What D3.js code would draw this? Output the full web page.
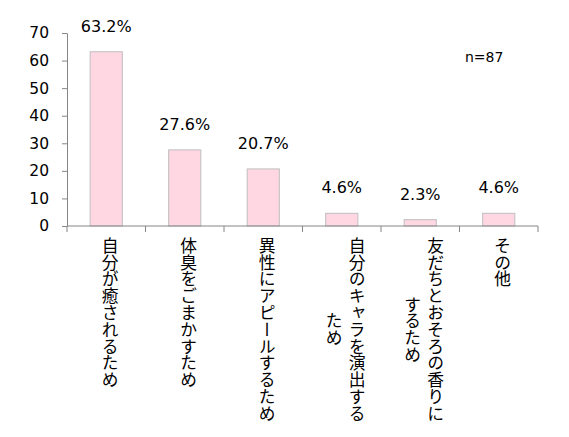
<!DOCTYPE html>
<html>
<head>
<meta charset="utf-8">
<script src="https://cdn.jsdelivr.net/npm/d3@7"></script>
<style>
  html, body { margin: 0; padding: 0; background: #fff; }
  #chart { width: 569px; height: 437px; }
  text { font-family: "DejaVu Sans", "Noto Sans CJK JP", sans-serif; fill: #000; }
</style>
</head>
<body>
<div id="chart"></div>
<script>
  var categories = [
    '自分が癒されるため',
    '体臭をごまかすため',
    '異性にアピールするため',
    '自分のキャラを演出するため',
    '友だちとおそろの香りにするため',
    'その他'
  ];
  var values = [63.2, 27.6, 20.7, 4.6, 2.3, 4.6];
  var valueLabels = ['63.2%', '27.6%', '20.7%', '4.6%', '2.3%', '4.6%'];
  var yTicks = [0, 10, 20, 30, 40, 50, 60, 70];
  var sampleNote = 'n=87';

  // 縦書きラベルは11文字で折り返す
  function wrap(s) {
    var lines = [];
    for (var i = 0; i < s.length; i += 11) lines.push(s.slice(i, i + 11));
    return lines;
  }

  var svg = d3.select('#chart')
    .append('svg')
    .attr('width', 569)
    .attr('height', 437);

  var x = d3.scaleBand()
    .domain(categories)
    .range([67, 538])
    .padding(0);

  var y = d3.scaleLinear()
    .domain([0, 70])
    .range([226, 33]);

  var axisColor = '#868686';

  // y軸
  var yAxis = svg.append('g')
    .attr('transform', 'translate(67,0)')
    .call(d3.axisLeft(y).tickValues(yTicks).tickSize(5).tickPadding(13).tickSizeOuter(0));
  yAxis.select('.domain').attr('stroke', axisColor);
  yAxis.selectAll('.tick line').attr('stroke', axisColor);
  yAxis.selectAll('.tick text')
    .style('font-size', '15.5px')
    .style('font-family', '"DejaVu Sans", sans-serif')
    .attr('fill', '#000');

  // 棒
  var barW = x.bandwidth() * 0.41;
  svg.selectAll('.bar')
    .data(values)
    .enter()
    .append('rect')
    .attr('class', 'bar')
    .attr('x', function (d, i) { return x(categories[i]) + x.bandwidth() / 2 - barW / 2; })
    .attr('y', function (d) { return y(d); })
    .attr('width', barW)
    .attr('height', function (d) { return y(0) - y(d); })
    .attr('fill', '#ffd7e3')
    .attr('stroke', '#bfbfbf')
    .attr('stroke-width', 1);

  // x軸
  svg.append('line')
    .attr('x1', x.range()[0]).attr('x2', x.range()[1])
    .attr('y1', y(0)).attr('y2', y(0))
    .attr('stroke', axisColor);

  var bounds = categories.map(function (c) { return x(c); }).concat([x.range()[1]]);
  svg.selectAll('.xtick')
    .data(bounds)
    .enter()
    .append('line')
    .attr('x1', function (d) { return d; }).attr('x2', function (d) { return d; })
    .attr('y1', y(0)).attr('y2', y(0) + 6)
    .attr('stroke', axisColor);

  // 値ラベル
  svg.selectAll('.val')
    .data(values)
    .enter()
    .append('text')
    .attr('x', function (d, i) { return x(categories[i]) + x.bandwidth() / 2; })
    .attr('y', function (d) { return y(d) - 20; })
    .attr('text-anchor', 'middle')
    .style('font-size', '16px')
    .text(function (d, i) { return valueLabels[i]; });

  // カテゴリ(縦書き、各行はブロック内で中央揃え)
  var labelTop = 237;
  categories.forEach(function (c, i) {
    var lines = wrap(c);
    var cx = x(c) + x.bandwidth() / 2 + 4;
    var gap = 23;
    var nodes = lines.map(function (line, j) {
      var lx = cx + ((lines.length - 1) / 2 - j) * gap;
      return svg.append('text')
        .attr('x', lx)
        .attr('y', labelTop)
        .style('writing-mode', 'vertical-rl')
        .style('text-orientation', 'upright')
        .style('font-family', '"Noto Sans CJK JP", sans-serif')
        .style('font-size', '16.8px')
        .text(line);
    });
    var lens = nodes.map(function (n) { return n.node().getComputedTextLength(); });
    var maxLen = d3.max(lens);
    nodes.forEach(function (n, j) {
      n.attr('y', labelTop + (maxLen - lens[j]) / 2);
    });
  });

  svg.append('text')
    .attr('x', 465)
    .attr('y', 62)
    .style('font-size', '14px')
    .text(sampleNote);
</script>
</body>
</html>
